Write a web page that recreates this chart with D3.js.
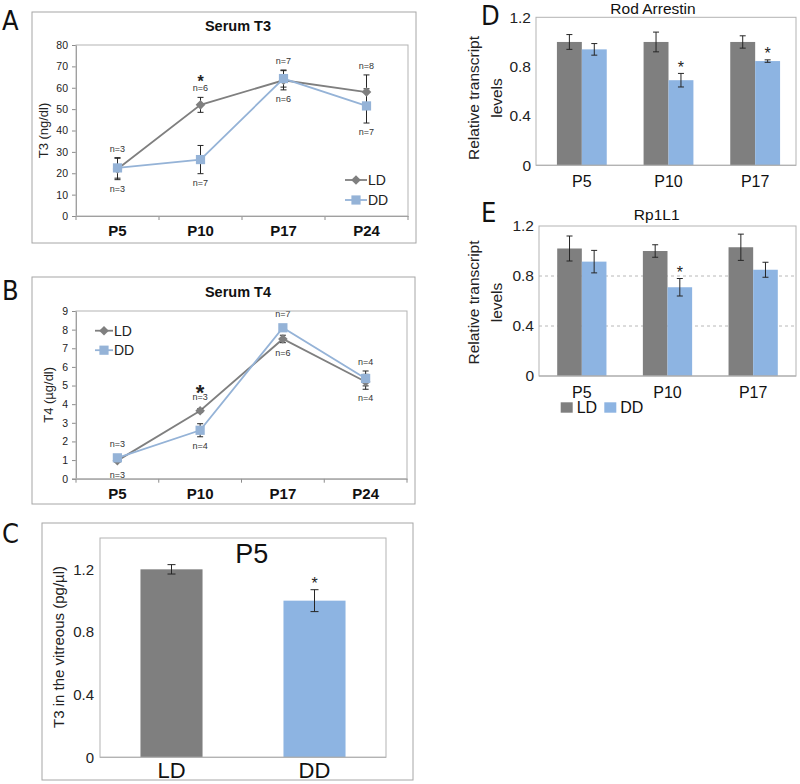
<!DOCTYPE html>
<html><head><meta charset="utf-8">
<script src="https://cdn.jsdelivr.net/npm/d3@7/dist/d3.min.js"></script>
<style>
body{margin:0;background:#fff}
svg{display:block}
text{font-family:"Liberation Sans",Arial,sans-serif}
</style>
</head><body>
<svg id="c" width="800" height="784"></svg>
<script>
// ---------------- DATA ----------------
const timepoints = ["P5","P10","P17","P24"];
const seriesNames = ["LD","DD"];

// Panel A: Serum T3 (ng/dl)
const t3LD    = [22, 52, 63.5, 58];
const t3LDerr = [5, 3.5, 4.5, 8];
const t3DD    = [22.5, 26.4, 64.3, 51.5];
const t3DDerr = [4.8, 6.6, 4, 8];
const t3NTop  = ["n=3","n=6","n=7","n=8"];
const t3NBot  = ["n=3","n=7","n=6","n=7"];
const t3Star  = [false, true, false, false];
const t3Ticks = [0,10,20,30,40,50,60,70,80];

// Panel B: Serum T4 (µg/dl)
const t4LD    = [0.97, 3.65, 7.5, 5.2];
const t4LDerr = [0.08, 0.1, 0.2, 0.4];
const t4DD    = [1.12, 2.6, 8.1, 5.38];
const t4DDerr = [0.08, 0.35, 0.15, 0.4];
const t4NTop  = ["n=3","n=3","n=7","n=4"];
const t4NBot  = ["n=3","n=4","n=6","n=4"];
const t4Star  = [false, true, false, false];
const t4Ticks = [0,1,2,3,4,5,6,7,8,9];

// Panel C: T3 in vitreous at P5 (pg/µl)
const vitCats  = ["LD","DD"];
const vitVal   = [1.2, 1.0];
const vitErr   = [0.03, 0.07];
const vitStar  = [false, true];
const vitTicks = [0, 0.4, 0.8, 1.2];

// Panel D: Rod Arrestin
const ageCats   = ["P5","P10","P17"];
const arrLD     = [1.0, 1.0, 1.0];
const arrLDerr  = [0.06, 0.08, 0.05];
const arrDD     = [0.94, 0.69, 0.845];
const arrDDerr  = [0.047, 0.055, 0.01];
const arrStar   = [false, true, true];

// Panel E: Rp1L1
const rpLD      = [1.02, 1.0, 1.03];
const rpLDerr   = [0.1, 0.05, 0.105];
const rpDD      = [0.915, 0.71, 0.85];
const rpDDerr   = [0.09, 0.07, 0.06];
const rpStar    = [false, true, false];
const relTicks  = [0, 0.4, 0.8, 1.2];

// ---------------- STYLE ----------------
const C_LD_LINE = "#7f7f7f", C_DD_LINE = "#95b3d7";
const C_LD_BAR = "#7f7f7f", C_DD_BAR = "#8db4e2";
const C_AXIS = "#8c8c8c", C_BORDER = "#b3b3b3", C_ERR = "#262626";
const svg = d3.select("#c");

function letter(t, x, y){
  svg.append("text").attr("x",x).attr("y",y).attr("font-size",27)
    .style("font-family",'"Liberation Sans Narrow","DejaVu Sans Condensed","Liberation Sans",sans-serif')
    .attr("fill","#111").text(t);
}
function rect(x0,y0,x1,y1,stroke){
  svg.append("rect").attr("x",x0).attr("y",y0).attr("width",x1-x0).attr("height",y1-y0)
    .attr("fill","none").attr("stroke",stroke).attr("stroke-width",1);
}
function errBar(g, x, y0, y1, cap){
  g.append("line").attr("x1",x).attr("x2",x).attr("y1",y0).attr("y2",y1).attr("stroke",C_ERR).attr("stroke-width",1);
  g.append("line").attr("x1",x-cap/2).attr("x2",x+cap/2).attr("y1",y0).attr("y2",y0).attr("stroke",C_ERR).attr("stroke-width",1);
  g.append("line").attr("x1",x-cap/2).attr("x2",x+cap/2).attr("y1",y1).attr("y2",y1).attr("stroke",C_ERR).attr("stroke-width",1);
}
function diamond(g, x, y, r, fill){
  g.append("path").attr("d",`M${x},${y-r}L${x+r},${y}L${x},${y+r}L${x-r},${y}Z`).attr("fill",fill);
}
function square(g, x, y, r, fill){
  g.append("rect").attr("x",x-r).attr("y",y-r).attr("width",2*r).attr("height",2*r).attr("fill",fill);
}

// ---------------- LINE PANELS (A, B) ----------------
function linePanel(o){
  rect(o.box[0],o.box[1],o.box[2],o.box[3],"#a6a6a6");
  const x = d3.scaleBand().domain(timepoints).range([o.L,o.R]);
  const y = d3.scaleLinear().domain([0,o.yMax]).range([o.B,o.T]);
  const cx = c => x(c)+x.bandwidth()/2;
  const g = svg.append("g");
  rect(o.L,o.T,o.R,o.B,C_BORDER);
  const ya = g.append("g").attr("transform",`translate(${o.L},0)`)
    .call(d3.axisLeft(y).tickValues(o.ticks).tickSize(4).tickPadding(4).tickFormat(d3.format("d")));
  ya.select(".domain").attr("stroke",C_AXIS);
  ya.selectAll(".tick line").attr("stroke",C_AXIS);
  ya.selectAll(".tick text").attr("font-size",10.5).attr("fill","#222")
    .style("font-family",'"Liberation Sans",Arial,sans-serif');
  const xa = g.append("g").attr("transform",`translate(0,${o.B})`)
    .call(d3.axisBottom(x).tickSize(0).tickPadding(0));
  xa.select(".domain").attr("stroke",C_AXIS);
  xa.selectAll(".tick text").attr("dy",null).attr("y",20).attr("font-size",15).attr("font-weight","bold").attr("fill","#111")
    .style("font-family",'"Liberation Sans",Arial,sans-serif');
  timepoints.map(c=>x(c)).concat([o.R]).forEach(px=>{
    g.append("line").attr("x1",px).attr("x2",px).attr("y1",o.B).attr("y2",o.B+4).attr("stroke",C_AXIS);
  });
  g.append("text").attr("x",o.titleX).attr("y",o.titleY).attr("text-anchor","middle")
    .attr("font-size",14.5).attr("font-weight","bold").attr("fill","#111").text(o.title);
  g.append("text").attr("transform",`translate(${o.ytX},${(o.T+o.B)/2}) rotate(-90)`)
    .attr("text-anchor","middle").attr("dominant-baseline","central")
    .attr("font-size",13).attr("fill","#222").text(o.ytitle);
  const line = d3.line().x((d,i)=>cx(timepoints[i])).y(d=>y(d));
  g.append("path").attr("d",line(o.ld)).attr("fill","none").attr("stroke",C_LD_LINE).attr("stroke-width",1.8);
  g.append("path").attr("d",line(o.dd)).attr("fill","none").attr("stroke",C_DD_LINE).attr("stroke-width",1.8);
  timepoints.forEach((c,i)=>{
    errBar(g,cx(c),y(o.ld[i]+o.ldErr[i]),y(o.ld[i]-o.ldErr[i]),6);
    errBar(g,cx(c),y(o.dd[i]+o.ddErr[i]),y(o.dd[i]-o.ddErr[i]),6);
  });
  timepoints.forEach((c,i)=>{ diamond(g,cx(c),y(o.ld[i]),4.8,C_LD_LINE); });
  timepoints.forEach((c,i)=>{ square(g,cx(c),y(o.dd[i]),4.6,C_DD_LINE); });
  timepoints.forEach((c,i)=>{
    const top = Math.min(y(o.ld[i]+o.ldErr[i]), y(o.dd[i]+o.ddErr[i]), y(o.ld[i])-5, y(o.dd[i])-5);
    const bot = Math.max(y(o.ld[i]-o.ldErr[i]), y(o.dd[i]-o.ddErr[i]), y(o.ld[i])+5, y(o.dd[i])+5);
    g.append("text").attr("x",cx(c)).attr("y",top-9).attr("text-anchor","middle").attr("dominant-baseline","central")
      .attr("font-size",9).attr("fill","#333").text(o.nTop[i]);
    g.append("text").attr("x",cx(c)).attr("y",bot+9).attr("text-anchor","middle").attr("dominant-baseline","central")
      .attr("font-size",9).attr("fill","#333").text(o.nBot[i]);
    if(o.star[i]){
      g.append("text").attr("x",cx(c)).attr("y",top-9-o.starGap+0.58*o.starSize).attr("text-anchor","middle")
        .attr("font-size",o.starSize).attr("font-weight","bold").attr("fill","#222").text("*");
    }
  });
  seriesNames.forEach((s,k)=>{
    const ly = o.legY + k*o.legDy;
    const col = k===0?C_LD_LINE:C_DD_LINE;
    g.append("line").attr("x1",o.legX).attr("x2",o.legX+o.legW).attr("y1",ly).attr("y2",ly).attr("stroke",col).attr("stroke-width",1.8);
    if(k===0) diamond(g,o.legX+o.legW/2,ly,4.8,col); else square(g,o.legX+o.legW/2,ly,4.6,col);
    g.append("text").attr("x",o.legX+o.legW+1).attr("y",ly).attr("dominant-baseline","central")
      .attr("font-size",14).attr("fill","#222").text(s);
  });
}

linePanel({box:[32,12,416,243], L:76,R:408,T:45,B:216, yMax:80, ticks:t3Ticks,
  ld:t3LD, ldErr:t3LDerr, dd:t3DD, ddErr:t3DDerr, nTop:t3NTop, nBot:t3NBot, star:t3Star,
  starSize:16, starGap:11, title:"Serum T3", titleX:238, titleY:31, ytitle:"T3 (ng/dl)", ytX:43,
  legX:345, legW:22, legY:180, legDy:20});

linePanel({box:[32,277,415,504], L:76,R:407,T:311,B:478.7, yMax:9, ticks:t4Ticks,
  ld:t4LD, ldErr:t4LDerr, dd:t4DD, ddErr:t4DDerr, nTop:t4NTop, nBot:t4NBot, star:t4Star,
  starSize:22, starGap:9, title:"Serum T4", titleX:238, titleY:297, ytitle:"T4 (µg/dl)", ytX:48,
  legX:95, legW:18, legY:330.7, legDy:19.5});

// ---------------- PANEL C ----------------
(function(){
  rect(42,523,413,780,"#a6a6a6");
  const L=100,R=386,T=538,B=757.3;
  const x = d3.scaleBand().domain(vitCats).range([L,R]).paddingInner(0.566).paddingOuter(0.283);
  const y = d3.scaleLinear().domain([0,1.4]).range([B,T]);
  const g = svg.append("g");
  rect(L,T,R,B,C_BORDER);
  const ya = g.append("g").attr("transform",`translate(${L},0)`)
    .call(d3.axisLeft(y).tickValues(vitTicks).tickSize(0).tickPadding(6).tickFormat(d=>d===0?"0":d3.format(".1f")(d)));
  ya.select(".domain").remove();
  ya.selectAll(".tick text").attr("font-size",15).attr("fill","#222").style("font-family",'"Liberation Sans",Arial,sans-serif');
  const colors=[C_LD_BAR,C_DD_BAR];
  vitCats.forEach((c,i)=>{
    g.append("rect").attr("x",x(c)).attr("y",y(vitVal[i])).attr("width",x.bandwidth()).attr("height",B-y(vitVal[i])).attr("fill",colors[i]);
    const cx=x(c)+x.bandwidth()/2;
    errBar(g,cx,y(vitVal[i]+vitErr[i]),y(vitVal[i]-vitErr[i]),8);
    if(vitStar[i]) g.append("text").attr("x",cx).attr("y",y(vitVal[i]+vitErr[i])-10+0.58*16).attr("text-anchor","middle")
      .attr("font-size",16).attr("fill","#222").text("*");
    g.append("text").attr("x",cx).attr("y",778).attr("text-anchor","middle").attr("font-size",22).attr("fill","#111").text(c);
  });
  g.append("line").attr("x1",L).attr("x2",R).attr("y1",B).attr("y2",B).attr("stroke","#a0a0a0");
  g.append("text").attr("x",251.7).attr("y",563).attr("text-anchor","middle").attr("font-size",27).attr("fill","#111").text("P5");
  g.append("text").attr("transform",`translate(58,647) rotate(-90)`).attr("text-anchor","middle").attr("dominant-baseline","central")
    .attr("font-size",15).attr("fill","#222").text("T3 in the vitreous (pg/µl)");
})();

// ---------------- BAR PANELS (D, E) ----------------
function barPanel(o){
  const x = d3.scaleBand().domain(ageCats).range(o.band).paddingInner(0.425).paddingOuter(0.2125);
  const x1 = d3.scaleBand().domain(seriesNames).range([0,x.bandwidth()]);
  const y = d3.scaleLinear().domain([0,1.2]).range([o.B,o.T]);
  const g = svg.append("g");
  rect(o.L,o.T,o.R,o.B,C_BORDER);
  if(o.grid){
    [0.4,0.8].forEach(v=>g.append("line").attr("x1",o.L).attr("x2",o.R).attr("y1",y(v)).attr("y2",y(v))
      .attr("stroke","#b8b8b8").attr("stroke-dasharray","3,3"));
  }
  const ya = g.append("g").attr("transform",`translate(${o.L},0)`)
    .call(d3.axisLeft(y).tickValues(relTicks).tickSize(0).tickPadding(5).tickFormat(d=>d===0?"0":d3.format(".1f")(d)));
  ya.select(".domain").remove();
  ya.selectAll(".tick text").attr("font-size",15.5).attr("fill","#222").style("font-family",'"Liberation Sans",Arial,sans-serif');
  const data=[[o.ld,o.ldErr,C_LD_BAR],[o.dd,o.ddErr,C_DD_BAR]];
  ageCats.forEach((c,i)=>{
    data.forEach((s,k)=>{
      const bx = x(c)+x1(seriesNames[k]);
      g.append("rect").attr("x",bx).attr("y",y(s[0][i])).attr("width",x1.bandwidth()).attr("height",o.B-y(s[0][i])).attr("fill",s[2]);
    });
    data.forEach((s,k)=>{
      const bx = x(c)+x1(seriesNames[k])+x1.bandwidth()/2;
      errBar(g,bx,y(s[0][i]+s[1][i]),y(s[0][i]-s[1][i]),6);
    });
    if(o.star[i]){
      const bx = x(c)+x1("DD")+x1.bandwidth()/2;
      g.append("text").attr("x",bx).attr("y",y(o.dd[i]+o.ddErr[i])-10+0.58*16).attr("text-anchor","middle")
        .attr("font-size",16).attr("fill","#222").text("*");
    }
    g.append("text").attr("x",x(c)+x.bandwidth()/2).attr("y",o.B+21.5).attr("text-anchor","middle")
      .attr("font-size",16).attr("fill","#111").text(c);
  });
  g.append("line").attr("x1",o.L).attr("x2",o.R).attr("y1",o.B).attr("y2",o.B).attr("stroke","#a0a0a0");
  g.append("text").attr("x",o.titleX).attr("y",o.titleY).attr("text-anchor","middle").attr("font-size",15.5).attr("fill","#111").text(o.title);
  const yc=o.ytY;
  g.append("text").attr("transform",`translate(473,${yc}) rotate(-90)`).attr("text-anchor","middle").attr("dominant-baseline","central")
    .attr("font-size",15.5).attr("fill","#222").text("Relative transcript");
  g.append("text").attr("transform",`translate(496.5,${yc}) rotate(-90)`).attr("text-anchor","middle").attr("dominant-baseline","central")
    .attr("font-size",15.5).attr("fill","#222").text("levels");
  if(o.legend){
    seriesNames.forEach((s,k)=>{
      const lx = o.legend[0] + k*43.6;
      g.append("rect").attr("x",lx).attr("y",o.legend[1]-5.2).attr("width",12).attr("height",10.4).attr("fill",k===0?C_LD_BAR:C_DD_BAR);
      g.append("text").attr("x",lx+16).attr("y",o.legend[1]).attr("dominant-baseline","central")
        .attr("font-size",16).attr("fill","#111").text(s);
    });
  }
}

barPanel({L:536,R:796,T:17.3,B:165.3, band:[538.5,798.5], ld:arrLD, ldErr:arrLDerr, dd:arrDD, ddErr:arrDDerr, star:arrStar,
  grid:false, title:"Rod Arrestin", titleX:653, titleY:13.5, ytY:98, legend:null});
barPanel({L:539,R:796,T:226,B:376, band:[539,796], ld:rpLD, ldErr:rpLDerr, dd:rpDD, ddErr:rpDDerr, star:rpStar,
  grid:true, title:"Rp1L1", titleX:656.7, titleY:219.5, ytY:302.5, legend:[560.7,407.5]});

letter("A",2,30);
letter("B",2,300);
letter("C",2,543);
letter("D",481,25);
letter("E",481,222);
</script>
</body></html>
